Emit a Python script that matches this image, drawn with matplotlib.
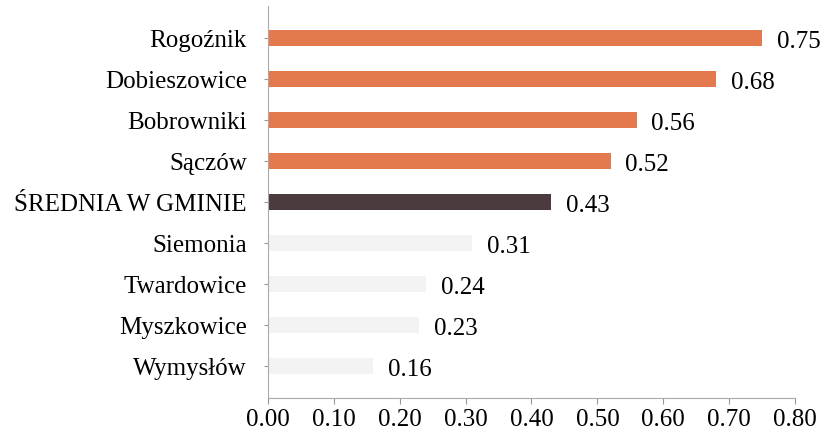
import numpy as np
import matplotlib
matplotlib.use('Agg')
import matplotlib.pyplot as plt

# Dane
nazwy = ['Rogoźnik', 'Dobieszowice', 'Bobrowniki', 'Sączów', 'ŚREDNIA W GMINIE',
         'Siemonia', 'Twardowice', 'Myszkowice', 'Wymysłów']
wartosci = [0.75, 0.68, 0.56, 0.52, 0.43, 0.31, 0.24, 0.23, 0.16]
kolory = ['#E5794E'] * 4 + ['#4B3B3F'] + ['#F3F3F3'] * 4
xticks = [0.0, 0.1, 0.2, 0.3, 0.4, 0.5, 0.6, 0.7, 0.8]

plt.rcParams['font.family'] = ['Liberation Serif', 'DejaVu Serif']

fig = plt.figure(figsize=(8.24, 4.30), dpi=100)
ax = fig.add_axes([0.325, 0.074, 0.64, 0.912])

y = np.arange(len(nazwy))
ax.barh(y, wartosci, height=0.4, color=kolory)
for yi, v in zip(y, wartosci):
    ax.text(v + 0.022, yi + 0.1, '%.2f' % v, va='center', ha='left', fontsize=18)

ax.set_ylim(len(nazwy) - 1 + 0.78, -0.78)
ax.set_xlim(0, 0.8)
ax.set_yticks(y)
ax.set_yticklabels(nazwy, fontsize=18)
ax.set_xticks(xticks)
ax.set_xticklabels(['%.2f' % t for t in xticks], fontsize=18)
ax.tick_params(axis='y', length=3, color='#999999', pad=12)
ax.tick_params(axis='x', length=4, color='#999999', pad=4)
for s in ['top', 'right']:
    ax.spines[s].set_visible(False)
for s in ['left', 'bottom']:
    ax.spines[s].set_color('#AAAAAA')
    ax.spines[s].set_linewidth(0.8)

fig.savefig('out.png', dpi=100)
